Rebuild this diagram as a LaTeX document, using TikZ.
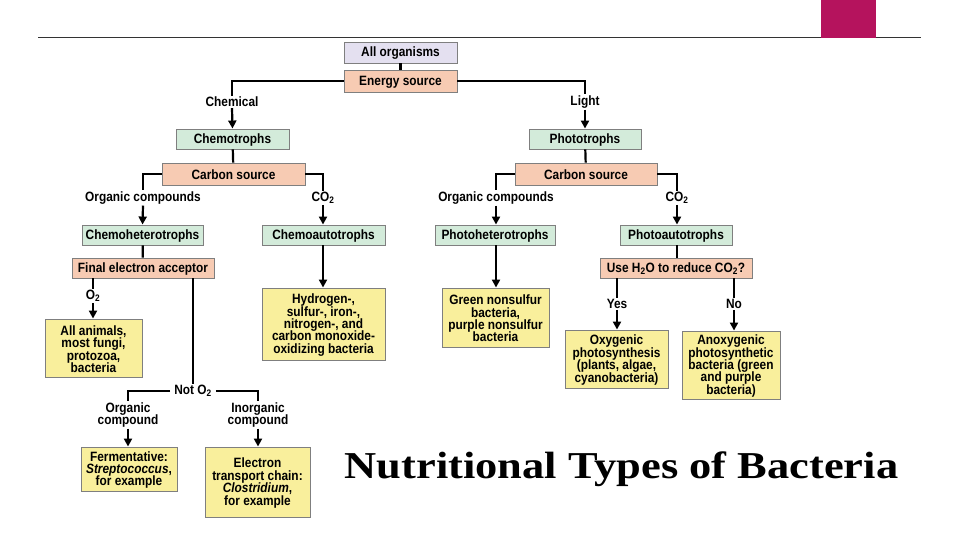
\documentclass[tikz,border=0pt]{standalone}
\usepackage{fontspec}
\setmainfont{Liberation Sans}[FakeStretch=0.88]
\newfontfamily\titlefont{Liberation Serif}
\usetikzlibrary{arrows.meta,shadows}
\definecolor{lav}{HTML}{E4E0F0}
\definecolor{salm}{HTML}{F7CBB3}
\definecolor{grn}{HTML}{D3EBDA}
\definecolor{yel}{HTML}{F9EF9C}
\definecolor{bord}{HTML}{7F7F7F}
\definecolor{mag}{HTML}{B5135D}
\newcommand\tightls{\lineskiplimit=-20pt\relax\lineskip=0pt\relax}
\tikzset{
  basebox/.style={draw=bord, line width=0.9pt, inner sep=0pt,
    drop shadow={shadow xshift=1.2pt, shadow yshift=-1.2pt, fill=black!30}},
  lavbox/.style={basebox, fill=lav},
  salbox/.style={basebox, fill=salm},
  grnbox/.style={basebox, fill=grn},
  yelbox/.style={basebox, fill=yel},
  boxtext/.style={inner sep=0pt, align=center,
    font=\bfseries\fontsize{13.5}{12.4}\selectfont\tightls},
  lbl/.style={inner sep=1pt, align=center,
    font=\bfseries\fontsize{13.5}{12.4}\selectfont\tightls},
  conn/.style={line width=2.2pt, black},
  arr/.style={conn, -{Triangle[length=8pt,width=8pt]}}
}
\newcommand\mkbox[7]{%
  \node[#6, minimum width={(#3-#2)*1pt}, minimum height={(#5-#4)*1pt}]
    (#1) at ({(#2+#3)/2},{(#4+#5)/2}) {};
  \node[boxtext] (#1t) at ({(#2+#3)/2},{(#4+#5)/2+1}) {#7};}
\begin{document}
\begin{tikzpicture}[x=1pt,y=-1pt]
\useasboundingbox (0,0) rectangle (960,540);
\fill[white] (0,0) rectangle (960,540);
% header
\draw[line width=1pt, black!80] (38,38) -- (921,38);
\fill[mag] (821,0) rectangle (876,38);
% boxes
\mkbox{allorg}{344}{457}{42}{63}{lavbox}{All organisms}
\mkbox{energy}{344}{457}{70}{92}{salbox}{Energy source}
\mkbox{chemo}{176}{289}{129}{149}{grnbox}{Chemotrophs}
\mkbox{photo}{529}{641}{129}{149}{grnbox}{Phototrophs}
\mkbox{csL}{162}{305}{163}{185}{salbox}{Carbon source}
\mkbox{csR}{515}{657}{163}{185}{salbox}{Carbon source}
\mkbox{chemohet}{82}{203}{225}{245}{grnbox}{Chemoheterotrophs}
\mkbox{chemoauto}{262}{385}{225}{245}{grnbox}{Chemoautotrophs}
\mkbox{photohet}{435}{555}{225}{245}{grnbox}{Photoheterotrophs}
\mkbox{photoauto}{620}{732}{225}{245}{grnbox}{Photoautotrophs}
\mkbox{fea}{72}{214}{258}{278}{salbox}{Final electron acceptor}
\mkbox{useh}{600}{752}{258}{278}{salbox}{Use H\textsubscript{2}O to reduce CO\textsubscript{2}?}
\mkbox{animals}{45}{142}{319}{377}{yelbox}{All animals,\\most fungi,\\protozoa,\\bacteria}
\mkbox{hydro}{262}{385}{288}{360}{yelbox}{Hydrogen-,\\sulfur-, iron-,\\nitrogen-, and\\carbon monoxide-\\oxidizing bacteria}
\mkbox{greens}{442}{549}{288}{347}{yelbox}{Green nonsulfur\\bacteria,\\purple nonsulfur\\bacteria}
\mkbox{oxy}{565}{668}{330}{388}{yelbox}{Oxygenic\\photosynthesis\\(plants, algae,\\cyanobacteria)}
\mkbox{anoxy}{682}{780}{331}{399}{yelbox}{Anoxygenic\\photosynthetic\\bacteria (green\\and purple\\bacteria)}
\mkbox{ferm}{81}{177}{447}{491}{yelbox}{Fermentative:\\\textit{Streptococcus},\\for example}
\mkbox{etc}{205}{310}{447}{517}{yelbox}{Electron\\transport chain:\\\textit{Clostridium},\\for example}
% labels
\node[lbl] (chemical) at (232,102) {Chemical};
\node[lbl] (light) at (585,102) {Light};
\node[lbl] (orgL) at (143,198) {Organic compounds};
\node[lbl] (co2L) at (323,198) {CO\textsubscript{2}};
\node[lbl] (orgR) at (496,198) {Organic compounds};
\node[lbl] (co2R) at (677,198) {CO\textsubscript{2}};
\node[lbl] (o2) at (93,296) {O\textsubscript{2}};
\node[lbl, inner xsep=4pt] (noto2) at (193,391) {Not O\textsubscript{2}};
\node[lbl] (orgc) at (128,415) {Organic\\compound};
\node[lbl] (inorgc) at (258,415) {Inorganic\\compound};
\node[lbl] (yes) at (617,304) {Yes};
\node[lbl] (no) at (734,304) {No};
% connectors
\draw[conn] (allorg) -- (energy);
\draw[conn] (energy.west) -| (chemical.north);
\draw[arr] (chemical.south) -- (chemo.north);
\draw[conn] (energy.east) -| (light.north);
\draw[arr] (light.south) -- (photo.north);
\draw[conn] (chemo) -- (csL);
\draw[conn] (csL.west) -| (orgL.north);
\draw[conn] (csL.east) -| (co2L.north);
\draw[arr] (orgL.south) -- (chemohet.north);
\draw[arr] (co2L.south) -- (co2L.south |- chemoauto.north);
\draw[conn] (photo) -- (csR);
\draw[conn] (csR.west) -| (orgR.north);
\draw[conn] (csR.east) -| (co2R.north);
\draw[arr] (orgR.south) -- (orgR.south |- photohet.north);
\draw[arr] (co2R.south) -- (co2R.south |- photoauto.north);
\draw[conn] (chemohet) -- (fea);
\draw[conn] (o2.north |- fea.south) -- (o2.north);
\draw[arr] (o2.south) -- (o2.south |- animals.north);
\draw[conn] (noto2.north |- fea.south) -- (noto2.north);
\draw[conn] (noto2.west) -| (orgc.north);
\draw[conn] (noto2.east) -| (inorgc.north);
\draw[arr] (orgc.south) -- (orgc.south |- ferm.north);
\draw[arr] (inorgc.south) -- (inorgc.south |- etc.north);
\draw[arr] (chemoauto.south -| co2L.south) -- (co2L.south |- hydro.north);
\draw[arr] (photohet.south -| orgR.south) -- (orgR.south |- greens.north);
\draw[conn] (photoauto.south -| co2R.south) -- (co2R.south |- useh.north);
\draw[conn] (yes.north |- useh.south) -- (yes.north);
\draw[arr] (yes.south) -- (yes.south |- oxy.north);
\draw[conn] (no.north |- useh.south) -- (no.north);
\draw[arr] (no.south) -- (no.south |- anoxy.north);
% title
\node[anchor=base, inner sep=0pt] (title) at (621.5,478)
  {\scalebox{1.17}[1]{\titlefont\bfseries\fontsize{38}{40}\selectfont Nutritional Types of Bacteria}};
\end{tikzpicture}
\end{document}
